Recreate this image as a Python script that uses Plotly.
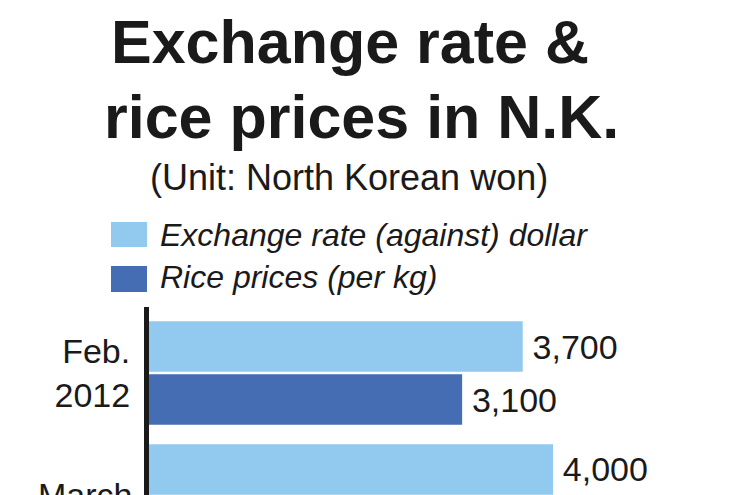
import plotly.graph_objects as go

# ---- data ----
categories = ["Feb.<br>2012", "March<br>2012"]
exchange_rate = [3700, 4000]
rice_price = [3100, None]
series_names = ["Exchange rate (against) dollar", "Rice prices (per kg)"]
title_lines = ["Exchange rate &", "rice prices in N.K."]
subtitle = "(Unit: North Korean won)"

# ---- layout geometry (pixels) ----
W, H = 750, 495
L, T, R, B = 149, 307, 0, 0
PW, PH = W - L - R, H - T - B

def px(x):
    return (x - L) / PW

def py(y):
    return (H - B - y) / PH

LIGHT = "#92C9EE"
DARK = "#456DB3"
INK = "#1a1a1a"
FONT = "Liberation Sans, Arial, sans-serif"

fig = go.Figure()
fig.add_trace(go.Bar(
    y=categories, x=exchange_rate, orientation="h", name=series_names[0],
    marker=dict(color=LIGHT, line=dict(width=0)),
    text=exchange_rate, texttemplate="\u2009%{x:,}", textposition="outside",
    textfont=dict(family=FONT, size=34, color=INK),
    constraintext="none", cliponaxis=True, showlegend=False,
))
fig.add_trace(go.Bar(
    y=categories, x=rice_price, orientation="h", name=series_names[1],
    marker=dict(color=DARK, line=dict(width=0)),
    text=rice_price, texttemplate="\u2009%{x:,}", textposition="outside",
    textfont=dict(family=FONT, size=34, color=INK),
    constraintext="none", cliponaxis=True, showlegend=False,
))

annotations = []
# title lines
annotations.append(dict(text=title_lines[0], x=px(350), y=py(63 - 0.3465 * 61),
                        xref="paper", yref="paper", xanchor="center", yanchor="middle",
                        showarrow=False, font=dict(family=FONT, size=61, color=INK, weight="bold")))
annotations.append(dict(text=title_lines[1], x=px(361), y=py(138 - 0.3465 * 61),
                        xref="paper", yref="paper", xanchor="center", yanchor="middle",
                        showarrow=False, font=dict(family=FONT, size=61, color=INK, weight="bold")))
annotations.append(dict(text=subtitle, x=px(349), y=py(190 - 0.3465 * 36),
                        xref="paper", yref="paper", xanchor="center", yanchor="middle",
                        showarrow=False, font=dict(family=FONT, size=36, color=INK)))
# legend (custom, large swatches)
shapes = []
legend_rows = [(series_names[0], LIGHT, 222, 247, 246), (series_names[1], DARK, 266, 292, 288)]
for name, col, y0, y1, base in legend_rows:
    shapes.append(dict(type="rect", xref="paper", yref="paper",
                       x0=px(111), x1=px(147), y0=py(y1), y1=py(y0),
                       fillcolor=col, line=dict(width=0)))
    annotations.append(dict(text=name, x=px(158), y=py(base - 0.3465 * 32),
                            xref="paper", yref="paper", xanchor="left", yanchor="middle",
                            showarrow=False,
                            font=dict(family=FONT, size=32, color=INK, style="italic")))
# second category label (falls below the visible plot window)
annotations.append(dict(text=categories[1], x=px(134), y=py(474),
                        xref="paper", yref="paper", xanchor="right", yanchor="top",
                        align="right", showarrow=False,
                        font=dict(family=FONT, size=34, color=INK)))

fig.update_layout(
    width=W, height=H,
    margin=dict(l=L, r=R, t=T, b=B, pad=0),
    paper_bgcolor="white", plot_bgcolor="white",
    barmode="group", bargap=0.138, bargroupgap=0.047,
    xaxis=dict(visible=False, range=[0, 5950], fixedrange=True),
    yaxis=dict(type="category", range=[0.992, -0.537], autorange=False,
               showline=True, linewidth=5, linecolor=INK, showgrid=False,
               zeroline=False, ticks="", ticklabelstandoff=7,
               tickfont=dict(family=FONT, size=34, color=INK), fixedrange=True),
    annotations=annotations, shapes=shapes,
    showlegend=False,
)

fig.write_html("out.html")
